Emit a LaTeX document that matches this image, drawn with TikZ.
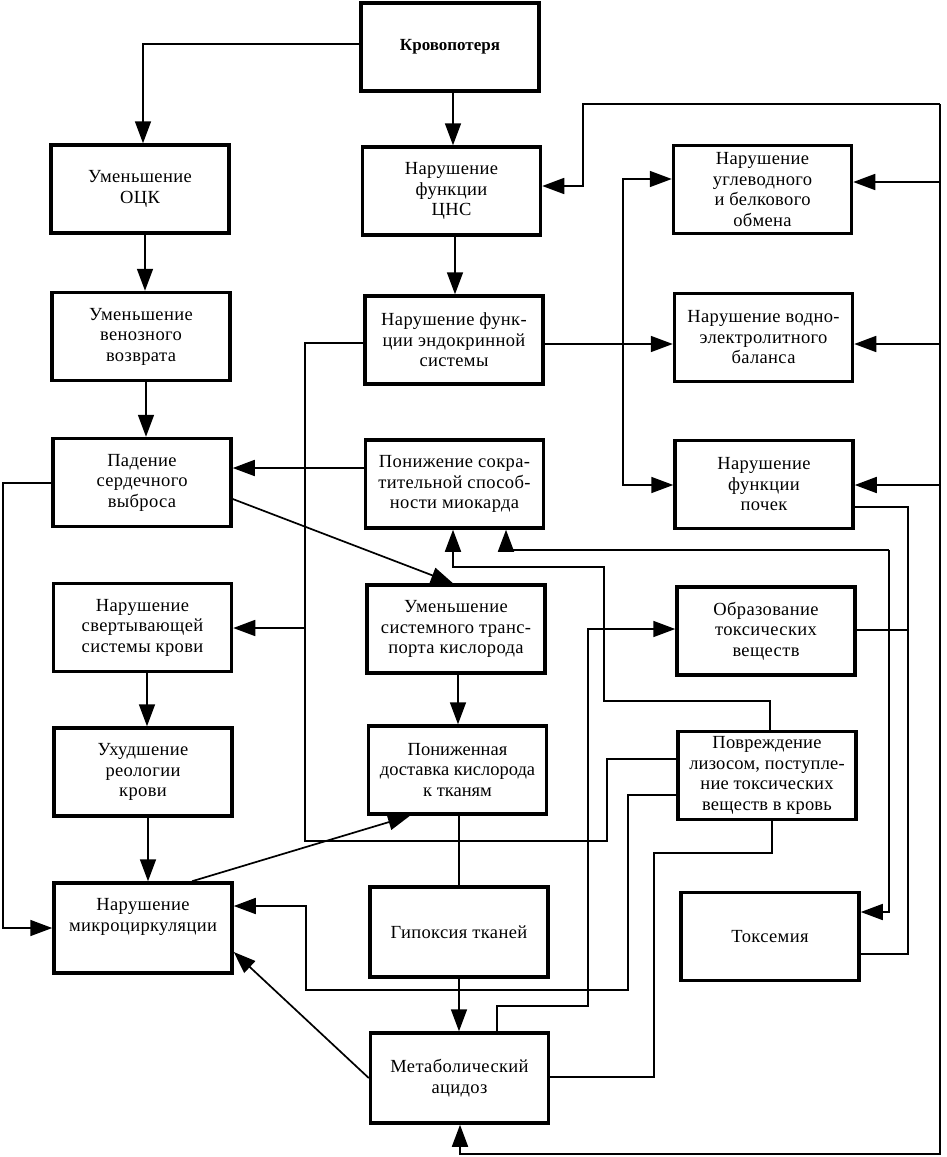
\documentclass[tikz,border=0pt]{standalone}
\usepackage{fontspec}
\setmainfont{Liberation Serif}[LetterSpace=2]
\usetikzlibrary{arrows.meta}
\tikzset{
  box/.style={draw, line width=3.5pt, minimum width=178pt, minimum height=88pt, align=center, inner sep=2pt,
    font=\fontsize{18.5}{20.5}\selectfont},
  conn/.style={line width=1.7pt},
  arr/.style={conn, -{Triangle[length=22pt,width=16pt]}},
}
\begin{document}
\begin{tikzpicture}[x=1pt,y=-1pt]
\useasboundingbox (0,0) rectangle (947,1157);
% nodes
\node[box, font=\fontsize{17}{20}\selectfont\bfseries\addfontfeatures{LetterSpace=0}] (kp) at (450,47) {Кровопотеря};
\node[box] (ock) at (140,189) {Уменьшение\\ОЦК};
\node[box] (cns) at (451.5,191) {Нарушение\\функции\\ЦНС};
\node[box] (ven) at (141,336.5) {Уменьшение\\венозного\\возврата};
\node[box] (endo) at (454,340) {Нарушение функ-\\ции эндокринной\\системы};
\node[box] (pad) at (142,482.5) {Падение\\сердечного\\выброса};
\node[box] (pon) at (454.5,484) {Понижение сокра-\\тительной способ-\\ности миокарда};
\node[box] (svert) at (142.5,627.5) {Нарушение\\свертывающей\\системы крови};
\node[box] (sist) at (456,629) {Уменьшение\\системного транс-\\порта кислорода};
\node[box] (reol) at (143,772) {Ухудшение\\реологии\\крови};
\node[box, font=\fontsize{18.5}{20.5}\selectfont\addfontfeatures{LetterSpace=0}] (dost) at (457.5,770) {Пониженная\\доставка кислорода\\к тканям};
\node[box, minimum height=90pt] (micro) at (143,928) {Нарушение\\микроциркуляции\\[6pt]};
\node[box, minimum height=90pt] (gip) at (459,932) {Гипоксия тканей};
\node[box, minimum height=90pt] (acid) at (459.5,1078) {Метаболический\\ацидоз};
\node[box] (ugl) at (762.5,189.5) {Нарушение\\углеводного\\и белкового\\обмена};
\node[box] (vodn) at (763.5,337.5) {Нарушение водно-\\электролитного\\баланса};
\node[box] (poch) at (764,484.5) {Нарушение\\функции\\почек};
\node[box] (obr) at (766,631) {Образование\\токсических\\веществ};
\node[box, font=\fontsize{18.5}{20.5}\selectfont\addfontfeatures{LetterSpace=1}] (povr) at (767,775.5) {Повреждение\\лизосом, поступле-\\ние токсических\\веществ в кровь};
\node[box] (tox) at (770,936.5) {Токсемия};
% main chain
\draw[arr] (kp.west |- 0,44) -| (143,0 |- ock.north);
\draw[arr] (kp.south -| 453,0) -- (cns.north -| 453,0);
\draw[arr] (ock.south -| 145,0) -- (ven.north -| 145,0);
\draw[arr] (cns.south -| 455,0) -- (endo.north -| 455,0);
\draw[arr] (ven.south -| 146,0) -- (pad.north -| 146,0);
\draw[arr] (pon.west |- 0,468) -- (pad.east |- 0,468);
\draw[arr] (pad.east |- 0,499) -- (sist.north -| 453,0);
\draw[arr] (sist.south -| 458,0) -- (dost.north -| 458,0);
\draw[conn] (dost.south -| 459,0) -- (gip.north -| 459,0);
\draw[arr] (gip.south -| 459,0) -- (acid.north -| 459,0);
\draw[arr] (svert.south -| 147,0) -- (reol.north -| 147,0);
\draw[arr] (reol.south -| 148,0) -- (micro.north -| 148,0);
% left loop
\draw[arr] (pad.west |- 0,483) -- (3,483) -- (3,928) -- (micro.west);
% diagonals
\draw[arr] (micro.north -| 192,0) -- (dost.south -| 410,0);
\draw[arr] (acid.west |- 0,1078) -- (micro.east |- 0,952);
% endocrine
\draw[conn] (povr.west |- 0,759) -- (607,759) -- (607,841) -- (305,841) -- (305,343) -- (endo.west |- 0,343);
\draw[arr] (305,628) -- (svert.east |- 0,628);
\draw[arr] (endo.east |- 0,344) -- (vodn.west |- 0,344);
\draw[arr] (623,344) |- (ugl.west |- 0,179);
\draw[arr] (623,344) |- (poch.west |- 0,485);
% outer bus
\draw[arr] (940,104) -- (583,104) -- (583,186) -- (cns.east |- 0,186);
\draw[arr] (940,104) -- (940,1154) -- (460,1154) -- (acid.south -| 460,0);
\draw[arr] (940,182) -- (ugl.east |- 0,182);
\draw[arr] (940,344) -- (vodn.east |- 0,344);
\draw[arr] (940,485) -- (poch.east |- 0,485);
% kidney / toxic bus
\draw[conn] (poch.east |- 0,507) -- (908,507) -- (908,954) -- (tox.east |- 0,954);
\draw[conn] (obr.east |- 0,630) -- (908,630);
% toxemia - myocardium
\draw[arr] (889,550) -- (506,550) -- (pon.south -| 506,0);
\draw[arr] (889,550) -- (889,912) -- (tox.east |- 0,912);
% lysosome top to myocardium
\draw[arr] (povr.north -| 770,0) -- (770,701) -- (604,701) -- (604,567) -- (453,567) -- (pon.south -| 453,0);
% acidosis to toxic substances
\draw[arr] (acid.north -| 497,0) -- (497,1006) -- (588,1006) -- (588,629) -- (obr.west |- 0,629);
% acidosis to lysosome
\draw[conn] (acid.east |- 0,1077) -- (654,1077) -- (654,853) -- (772,853) -- (povr.south -| 772,0);
% lysosome to microcirculation
\draw[arr] (povr.west |- 0,795) -- (628,795) -- (628,990) -- (306,990) -- (306,906) -- (micro.east |- 0,906);
\end{tikzpicture}
\end{document}
